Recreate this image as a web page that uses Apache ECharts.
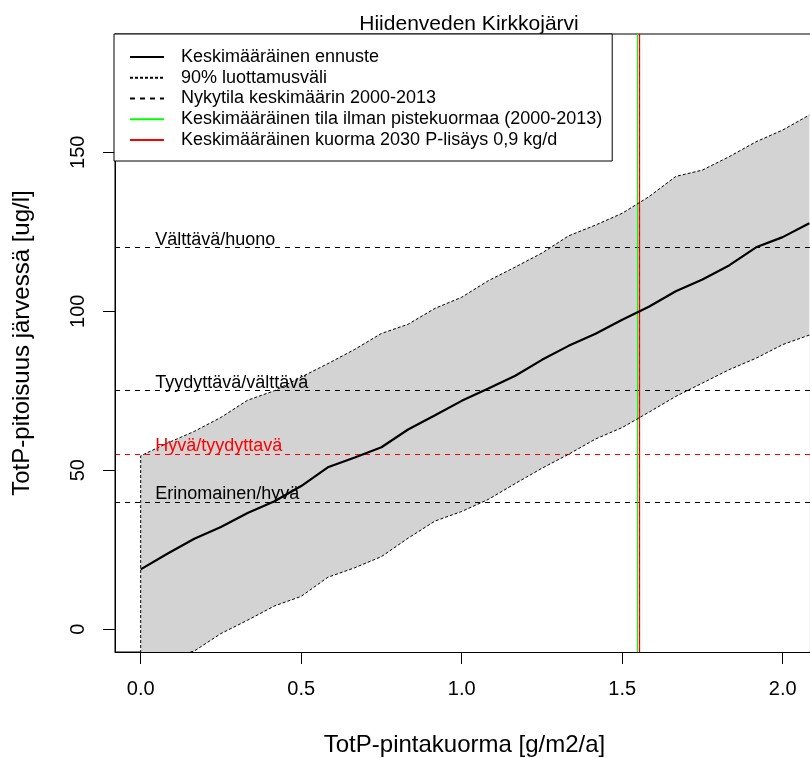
<!DOCTYPE html>
<html>
<head>
<meta charset="utf-8">
<script src="https://cdn.jsdelivr.net/npm/echarts@6/dist/echarts.min.js"></script>
<style>
  html, body { margin: 0; padding: 0; background: #fff; }
  #chart { width: 810px; height: 758px; }
</style>
</head>
<body>
<div id="chart"></div>
<script>
// ---- data ----
const xLoad = [0, 0.083, 0.167, 0.25, 0.333, 0.417, 0.5, 0.583, 0.667, 0.75, 0.833, 0.917, 1.0,
  1.083, 1.167, 1.25, 1.333, 1.417, 1.5, 1.583, 1.667, 1.75, 1.833, 1.917, 2.0, 2.083];
const meanConc = [18.8, 23.7, 28.4, 32.1, 36.5, 40.2, 45.0, 50.9, 54.0, 57.2, 62.8, 67.3, 71.8,
  75.7, 79.7, 84.7, 89.1, 92.9, 97.3, 101.4, 106.3, 110.0, 114.4, 120.1, 123.3, 127.7];
const upperConc = [54.5, 58.5, 62.2, 66.6, 72.0, 75.0, 79.3, 83.5, 88.0, 93.0, 95.9, 100.9, 104.4,
  109.6, 113.9, 118.3, 123.7, 127.1, 130.8, 136.0, 142.4, 144.4, 148.6, 153.3, 157.0, 161.7];
const lowerConc = [-30, -9, -6.9, -1.4, 2.8, 7.3, 10.3, 16.3, 19.3, 22.8, 28.6, 34.0, 37.0,
  40.8, 45.8, 50.6, 55.0, 59.8, 63.4, 68.2, 73.2, 77.4, 81.6, 85.2, 89.5, 92.5];
const classBounds = [40, 55, 75, 120];
const classLabels = ['Erinomainen/hyvä', 'Hyvä/tyydyttavä', 'Tyydyttävä/välttävä', 'Välttävä/huono'];
const noPointLoad = 1.547;
const currentLoad = 1.553;
const load2030 = 1.553;
const xTicks = [0, 0.5, 1.0, 1.5, 2.0];
const yTicks = [0, 50, 100, 150];
const names = {
  mean: 'Keskimääräinen ennuste',
  ci: '90% luottamusväli',
  now: 'Nykytila keskimäärin 2000-2013',
  noPoint: 'Keskimääräinen tila ilman pistekuormaa (2000-2013)',
  future: 'Keskimääräinen kuorma 2030 P-lisäys 0,9 kg/d'
};

// ---- build ----
const FONT = 'Liberation Sans, Arial, sans-serif';
const pairs = (ys) => xLoad.map((x, i) => [x, ys[i]]);
const outline = pairs(lowerConc).slice().reverse().concat(pairs(upperConc));

const chart = echarts.init(document.getElementById('chart'), null, { renderer: 'canvas' });
const noMarkSym = { symbol: ['none', 'none'], silent: true, precision: 6, label: { show: false }, emphasis: { disabled: true } };

chart.setOption({
  animation: false,
  backgroundColor: '#fff',
  textStyle: { fontFamily: FONT },
  title: {
    text: 'Hiidenveden Kirkkojärvi',
    left: 464, top: 9, textAlign: 'center',
    textStyle: { fontFamily: FONT, fontSize: 21, fontWeight: 'normal', color: '#000' }
  },
  legend: {
    orient: 'vertical', left: 114, top: 34,
    backgroundColor: '#fff', borderColor: '#000', borderWidth: 1, borderRadius: 0,
    padding: [14, 10, 12, 15],
    itemWidth: 34, itemHeight: 14, itemGap: 2.75,
    selectedMode: false, z: 10,
    itemStyle: { opacity: 0 },
    textStyle: { fontFamily: FONT, fontSize: 18, lineHeight: 18, color: '#000', padding: [0, 0, 0, 12] },
    data: [names.mean, names.ci, names.now, names.noPoint, names.future]
  },
  grid: {
    left: 115, top: 34, right: -4, bottom: 106,
    outerBoundsMode: 'none', containLabel: false,
    show: true, borderColor: '#000', borderWidth: 1, backgroundColor: 'transparent'
  },
  xAxis: {
    type: 'value', min: -0.08, max: 2.0975, z: 8,
    name: 'TotP-pintakuorma [g/m2/a]', nameLocation: 'middle', nameGap: 81,
    nameTextStyle: { fontFamily: FONT, fontSize: 24, color: '#000' },
    axisLine: { show: true, onZero: false, lineStyle: { color: '#000', width: 1 } },
    axisTick: { show: true, length: 12, customValues: xTicks, lineStyle: { color: '#000' } },
    axisLabel: { customValues: xTicks, margin: 27, fontFamily: FONT, fontSize: 20, color: '#000',
      formatter: (v) => v.toFixed(1) },
    splitLine: { show: false }
  },
  yAxis: {
    type: 'value', min: -7.2, max: 187.2, z: 8,
    name: 'TotP-pitoisuus järvessä [ug/l]', nameLocation: 'middle', nameGap: 81,
    nameTextStyle: { fontFamily: FONT, fontSize: 24, color: '#000' },
    axisLine: { show: true, onZero: false, lineStyle: { color: '#000', width: 1 } },
    axisTick: { show: true, length: 12, customValues: yTicks, lineStyle: { color: '#000' } },
    axisLabel: { customValues: yTicks, margin: 27, rotate: 90, fontFamily: FONT, fontSize: 20, color: '#000' },
    splitLine: { show: false }
  },
  series: [
    { name: 'bandUpper', type: 'line', data: pairs(upperConc), symbol: 'none', silent: true, z: 1,
      lineStyle: { opacity: 0 }, areaStyle: { color: '#d3d3d3', opacity: 1, origin: 'start' } },
    { name: 'bandLower', type: 'line', data: pairs(lowerConc), symbol: 'none', silent: true, z: 1,
      lineStyle: { opacity: 0 }, areaStyle: { color: '#ffffff', opacity: 1, origin: 'start' } },
    { name: 'classLines', type: 'line', data: [], z: 3,
      markLine: Object.assign({}, noMarkSym, {
        lineStyle: { type: [5, 5], color: '#000', width: 1 },
        data: classBounds.map((v, i) => ({ yAxis: v,
          lineStyle: classLabels[i].startsWith('Hyvä') ? { color: '#ff0000', type: [5, 5], width: 1 } : { color: '#000', type: [5, 5], width: 1 } }))
      }) },
    { name: names.noPoint, type: 'line', data: [], z: 4, symbol: 'none',
      lineStyle: { color: '#00ff00', width: 1 }, itemStyle: { color: '#00ff00' },
      markLine: Object.assign({}, noMarkSym, { lineStyle: { type: 'solid', color: '#00ff00', width: 1.2 },
        data: [{ xAxis: noPointLoad }] }) },
    { name: names.future, type: 'line', data: [], z: 4, symbol: 'none',
      lineStyle: { color: '#ff0000', width: 1 }, itemStyle: { color: '#ff0000' },
      markLine: Object.assign({}, noMarkSym, { lineStyle: { type: 'solid', color: '#ff0000', width: 1.3 },
        data: [{ xAxis: load2030 }] }) },
    { name: names.now, type: 'line', data: [], z: 4, symbol: 'none',
      lineStyle: { color: '#000', width: 1, type: [5, 5] }, itemStyle: { color: '#000' },
      markLine: Object.assign({}, noMarkSym, { lineStyle: { type: [4, 4], color: 'rgba(120,0,0,0.45)', width: 0.8 },
        data: [{ xAxis: currentLoad }] }) },
    { name: names.ci, type: 'line', data: outline, z: 5, symbol: 'none', silent: true,
      lineStyle: { color: '#000', width: 1, type: [3, 2] }, itemStyle: { color: '#000' } },
    { name: names.mean, type: 'line', data: pairs(meanConc), z: 6, symbol: 'none', silent: true,
      lineStyle: { color: '#000', width: 2.2 }, itemStyle: { color: '#000' } },
    { name: 'classLabels', type: 'scatter', z: 7, symbolSize: 0, silent: true,
      itemStyle: { opacity: 1 },
      data: classBounds.map((v, i) => ({
        value: [0.045, v],
        label: { show: true, position: 'right', distance: 0, offset: [0, -8],
          formatter: classLabels[i], fontFamily: FONT, fontSize: 18,
          color: classLabels[i].startsWith('Hyvä') ? '#ff0000' : '#000' }
      })) }
  ]
});
</script>
</body>
</html>
